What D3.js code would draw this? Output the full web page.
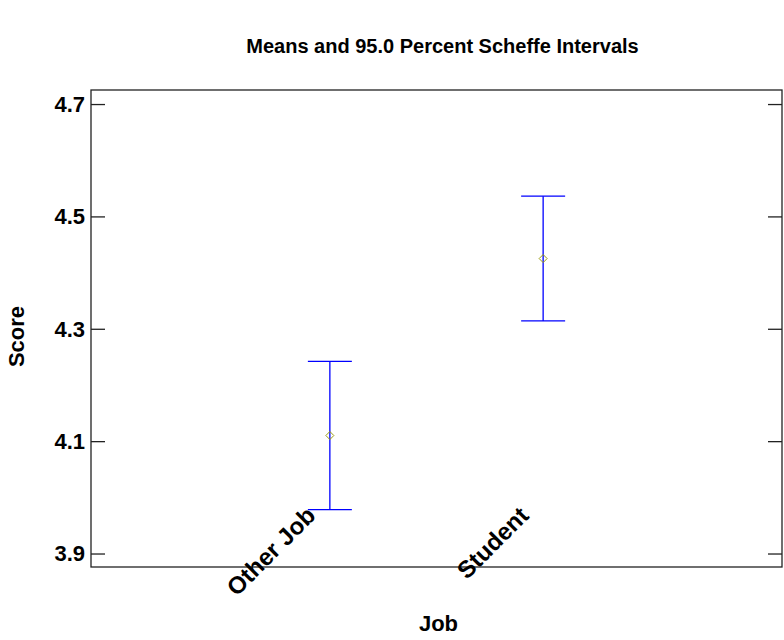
<!DOCTYPE html>
<html>
<head>
<meta charset="utf-8">
<script src="https://cdn.jsdelivr.net/npm/d3@7"></script>
<style>
  body { margin: 0; background: #fff; }
  text { font-family: "Liberation Sans", Arial, sans-serif; font-weight: bold; fill: #000; }
</style>
</head>
<body>
<script>
// Data
const categories = ["Other Job", "Student"];
const means = [4.110, 4.425];
const lower = [3.978, 4.314];
const upper = [4.242, 4.536];
const yTicks = [3.9, 4.1, 4.3, 4.5, 4.7];
const title = "Means and 95.0 Percent Scheffe Intervals";
const xTitle = "Job";
const yTitle = "Score";

const W = 784, H = 640;
const pL = 91, pR = 782, pT = 90, pB = 567;

const svg = d3.select("body").append("svg").attr("width", W).attr("height", H);

const x = d3.scalePoint().domain(categories).range([pL, pR]).padding(1.12);
const y = d3.scaleLinear().domain([3.876, 4.725]).range([pB, pT]);

// frame
svg.append("rect").attr("x", pL).attr("y", pT).attr("width", pR - pL).attr("height", pB - pT)
  .attr("fill", "none").attr("stroke", "#222").attr("stroke-width", 1.3);

// left axis (ticks inward)
const yl = svg.append("g").attr("transform", `translate(${pL},0)`)
  .call(d3.axisRight(y).tickValues(yTicks).tickSize(14).tickFormat(""));
yl.select(".domain").remove();
yl.selectAll("line").attr("stroke", "#222").attr("stroke-width", 1.3);
// right axis (ticks inward)
const yr = svg.append("g").attr("transform", `translate(${pR},0)`)
  .call(d3.axisLeft(y).tickValues(yTicks).tickSize(14).tickFormat(""));
yr.select(".domain").remove();
yr.selectAll("line").attr("stroke", "#222").attr("stroke-width", 1.3);

// y tick labels
svg.append("g").selectAll("text").data(yTicks).join("text")
  .attr("x", pL - 6).attr("y", d => y(d)).attr("dy", "0.36em")
  .attr("text-anchor", "end").style("font-size", "22px")
  .text(d => d3.format(".1f")(d));

// x tick labels rotated
svg.append("g").selectAll("text").data(categories).join("text")
  .attr("transform", d => `translate(${x(d) - 13},${pB - 50}) rotate(-45)`)
  .attr("text-anchor", "end").style("font-size", "24px")
  .text(d => d);

// error bars
const eb = svg.append("g").attr("stroke", "#0000ff").attr("stroke-width", 1.3);
categories.forEach((c, i) => {
  eb.append("line").attr("x1", x(c)).attr("x2", x(c)).attr("y1", y(lower[i])).attr("y2", y(upper[i]));
  eb.append("line").attr("x1", x(c) - 22).attr("x2", x(c) + 22).attr("y1", y(upper[i])).attr("y2", y(upper[i]));
  eb.append("line").attr("x1", x(c) - 22).attr("x2", x(c) + 22).attr("y1", y(lower[i])).attr("y2", y(lower[i]));
});

// mean markers (diamonds)
svg.append("g").selectAll("path").data(categories).join("path")
  .attr("transform", (d, i) => `translate(${x(d)},${y(means[i])})`)
  .attr("d", "M-4,0L0,-4L4,0L0,4Z")
  .attr("fill", "none").attr("stroke", "#9a9a10").attr("stroke-width", 1);

// titles
svg.append("text").attr("x", (pL + pR) / 2 + 6).attr("y", 53).attr("text-anchor", "middle")
  .style("font-size", "20px").text(title);
svg.append("text").attr("x", (pL + pR) / 2 + 2).attr("y", 631).attr("text-anchor", "middle")
  .style("font-size", "22px").text(xTitle);
svg.append("text").attr("transform", `translate(24,${(pT + pB) / 2 + 8}) rotate(-90)`)
  .attr("text-anchor", "middle").style("font-size", "22px").text(yTitle);
</script>
</body>
</html>
